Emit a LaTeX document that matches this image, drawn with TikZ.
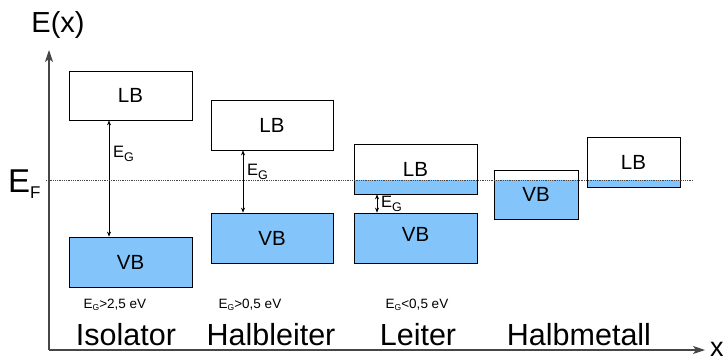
\documentclass[tikz,border=0pt]{standalone}
\usepackage{fontspec}
\setmainfont{Liberation Sans}
\usetikzlibrary{arrows.meta,backgrounds}
\definecolor{bandblue}{RGB}{131,197,250}
\definecolor{axisgray}{RGB}{70,70,70}
\newcommand{\fs}[1]{\fontsize{#1}{#1}\selectfont}
\begin{document}
\begin{tikzpicture}[x=1pt,y=-1pt,
  band/.style={draw=black, line width=0.8pt, inner sep=0pt, font=\fs{20.5}},
  vband/.style={band, fill=bandblue},
  gaparrow/.style={{Stealth[length=5pt,width=4pt]}-{Stealth[length=5pt,width=4pt]}, line width=0.6pt},
  axis/.style={draw=axisgray, line width=1.1pt, -{Stealth[length=12pt,width=8pt,inset=3pt]}},
  fermi/.style={draw=axisgray, line width=0.8pt, densely dotted},
  glabel/.style={anchor=base west, inner sep=0pt},
  cond/.style={anchor=base, inner sep=0pt, font=\fs{13.5}},
  kind/.style={anchor=base, inner sep=0pt, font=\fs{30.5}}]
\useasboundingbox (0,0) rectangle (727,361);

% axes
\coordinate (O) at (49,350);
\coordinate (ytip) at (49,50);
\coordinate (xtip) at (705,350);
\draw[axis] (O) -- (ytip);
\draw[axis] (O) -- (xtip);
\node[anchor=base, inner sep=0pt, font=\fs{29}] (ey) at (58,33) {E(x)};
\node[anchor=base west, inner sep=0pt, font=\fs{27}] (xl) at (710,356) {x};
\node[anchor=base west, inner sep=0pt] (ef) at (8,192) {\fs{33}E\raisebox{-6pt}{\fs{17}F}};

% Isolator
\node[band, minimum width=123pt, minimum height=49pt] (lb1) at (130.5,95.5) {LB};
\node[vband, minimum width=123pt, minimum height=50pt] (vb1) at (130.5,262) {VB};
\draw[gaparrow] ([xshift=-21.5pt]lb1.south) -- ([xshift=-21.5pt]vb1.north);
\node[glabel] (eg1) at (113,157) {\fs{16.5}E\raisebox{-4pt}{\fs{12.5}G}};

% Halbleiter
\node[band, minimum width=122pt, minimum height=50pt] (lb2) at (272,125) {LB};
\node[vband, minimum width=122pt, minimum height=50pt] (vb2) at (272,238) {VB};
\draw[gaparrow] ([xshift=-29pt]lb2.south) -- ([xshift=-29pt]vb2.north);
\node[glabel] (eg2) at (247,175) {\fs{16.5}E\raisebox{-4pt}{\fs{12.5}G}};

% Leiter
\node[band, minimum width=123pt, minimum height=50pt] (lb3) at (415.5,169) {LB};
\node[vband, minimum width=123pt, minimum height=50pt] (vb3) at (415.5,238) {\raisebox{8pt}{VB}};
\draw[gaparrow] ([xshift=-38.5pt]lb3.south) -- ([xshift=-38.5pt]vb3.north);
\node[glabel] (eg3) at (381,207) {\fs{16.5}E\raisebox{-4pt}{\fs{12.5}G}};

% Halbmetall
\node[band, minimum width=84pt, minimum height=49pt] (vb4) at (536,194.5) {VB};
\node[band, minimum width=93pt, minimum height=50pt] (lb4) at (633.5,162) {LB};

% Fermi level
\coordinate (fl) at (46,180);
\coordinate (fr) at (693,180);

\begin{scope}[on background layer]
  \fill[bandblue] (lb3.west |- fl) rectangle (lb3.south east);
  \fill[bandblue] (vb4.west |- fl) rectangle (vb4.south east);
  \fill[bandblue] (lb4.west |- fl) rectangle (lb4.south east);
\end{scope}
\draw[fermi] (fl) -- (fr);

% conditions
\node[cond] (c1) at (115,308) {E\raisebox{-2pt}{\fs{8.5}G}>2,5 eV};
\node[cond] (c2) at (250,308) {E\raisebox{-2pt}{\fs{8.5}G}>0,5 eV};
\node[cond] (c3) at (417,308) {E\raisebox{-2pt}{\fs{8.5}G}<0,5 eV};

% material classes
\node[kind] (k1) at (126,345) {Isolator};
\node[kind] (k2) at (271,345) {Halbleiter};
\node[kind] (k3) at (418,345) {Leiter};
\node[kind] (k4) at (579,345) {Halbmetall};
\end{tikzpicture}
\end{document}
